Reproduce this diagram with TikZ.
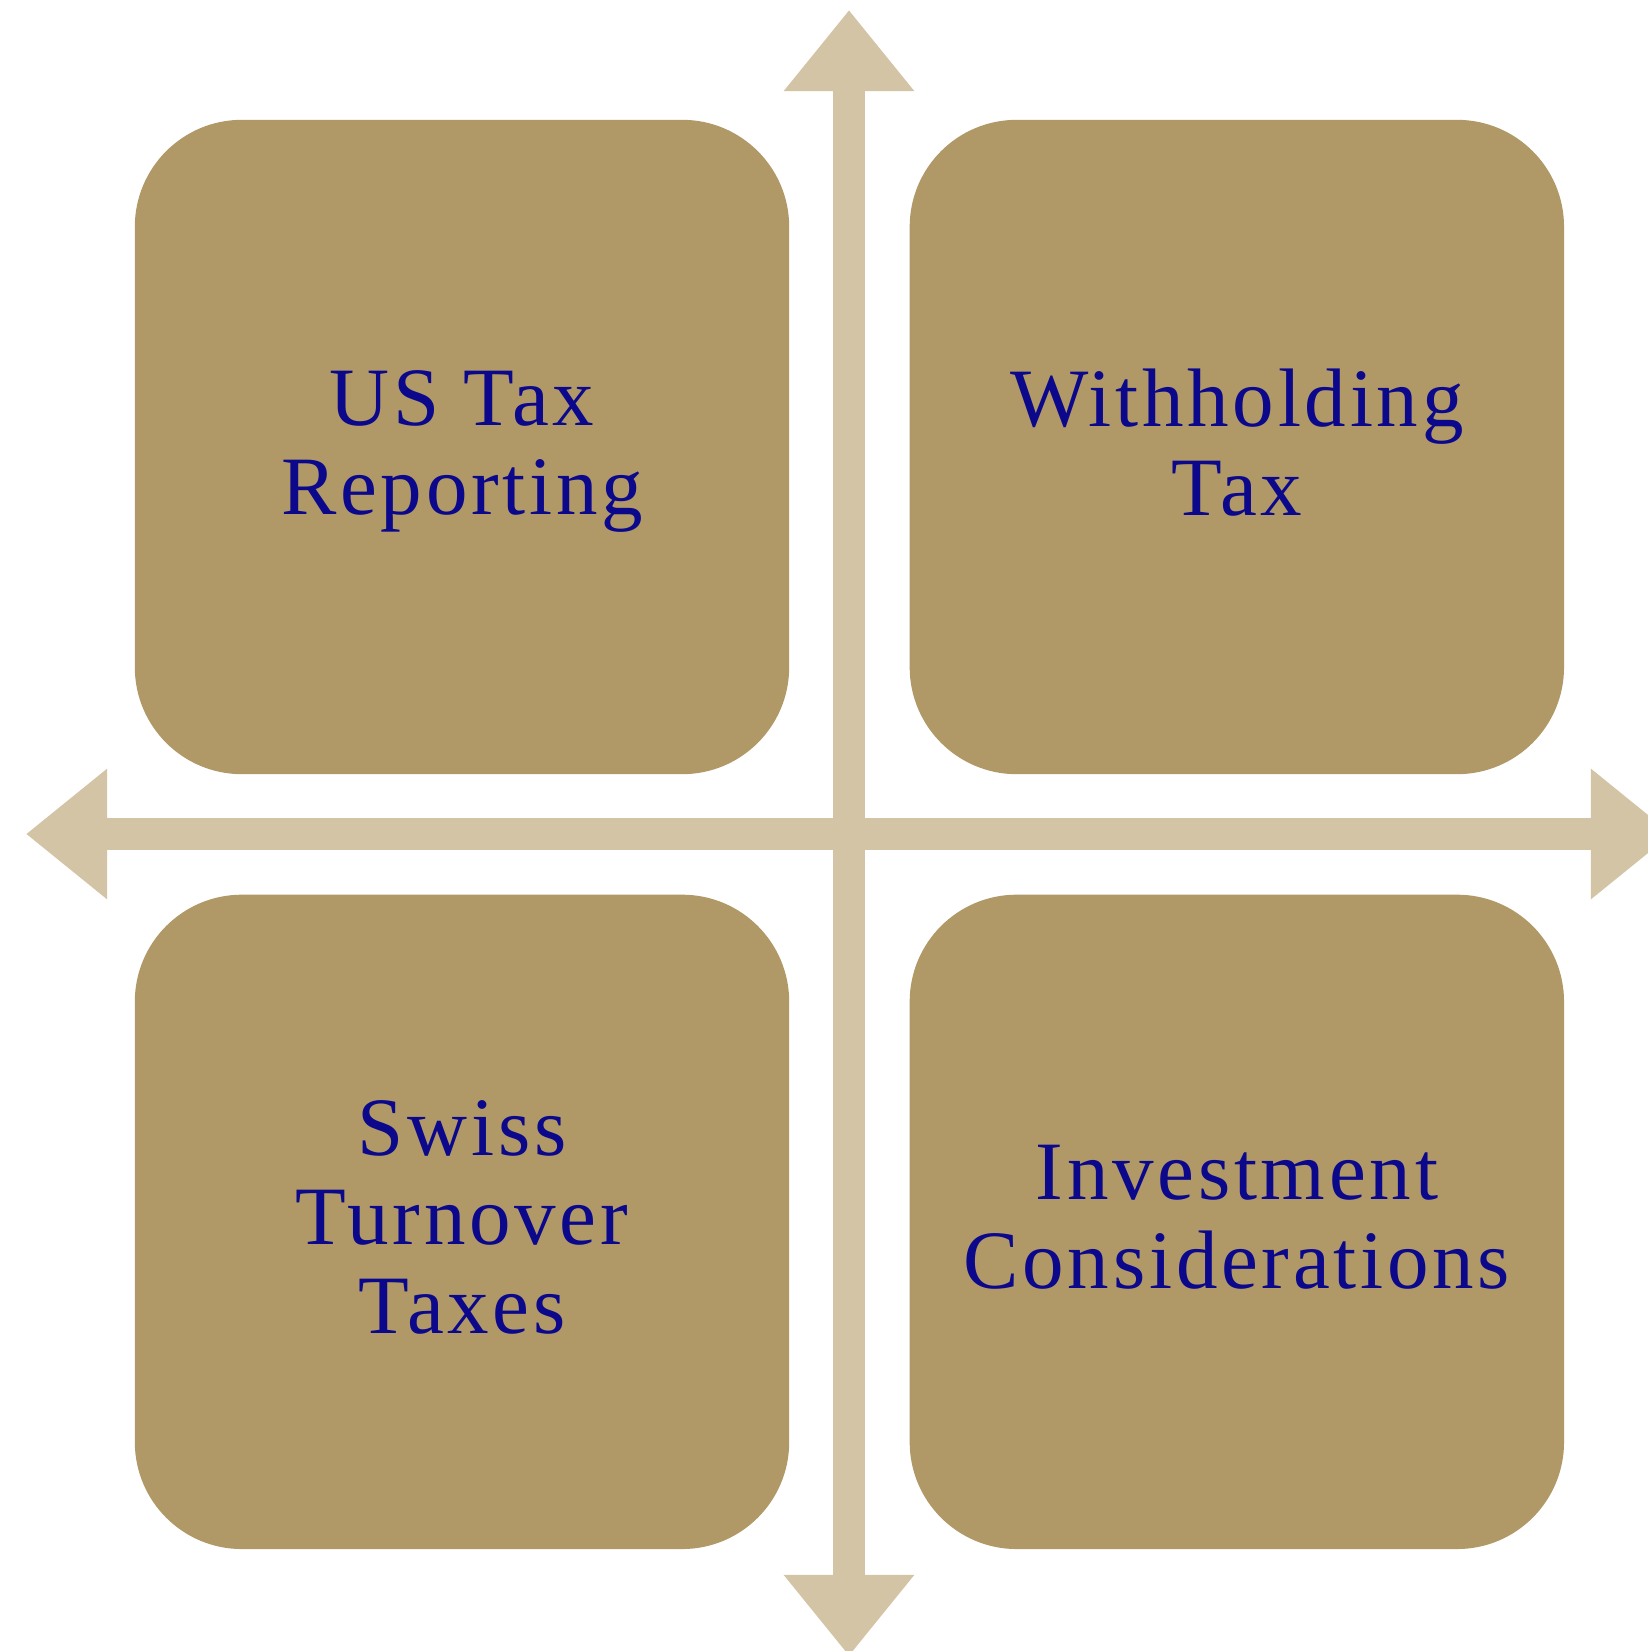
\documentclass[tikz,border=0pt]{standalone}
\usepackage{fontspec}
\setmainfont{Liberation Serif}[LetterSpace=4.5]
\usepackage{tikz}
\usetikzlibrary{arrows.meta,positioning}
\definecolor{axistan}{RGB}{211,196,166}
\definecolor{boxgold}{RGB}{176,153,102}
\definecolor{labelblue}{RGB}{12,8,140}

\begin{document}
\begin{tikzpicture}[
    x=0.01cm, y=-0.01cm,
    node distance=1.19cm,
    quad/.style={rectangle, fill=boxgold, rounded corners=1.07cm, minimum width=6.54cm, minimum height=6.54cm, align=center, text=labelblue, font=\fontsize{23.6}{25.4}\selectfont, text depth=2.7pt},
    axis/.style={draw=axistan, line width=0.32cm, {Triangle[length=0.81cm, width=1.25cm]}-{Triangle[length=0.81cm, width=1.25cm]}}
]
    \useasboundingbox (0,0) rectangle (1648,1651);
    \fill[white] (0,0) rectangle (1648,1651);

    \coordinate (top) at (849,10);
    \coordinate (bottom) at (849,1656);
    \coordinate (left) at (26,834);
    \coordinate (right) at (1672,834);
    \draw[axis] (top) -- (bottom);
    \draw[axis] (left) -- (right);

    \node[quad] (ustax) at (462,447) {US Tax\\Reporting};
    \node[quad, right=of ustax] (withhold) {Withholding\\Tax};
    \node[quad, below=of ustax] (swiss) {Swiss\\Turnover\\Taxes};
    \node[quad, below=of withhold] (invest) {Investment\\Considerations};
\end{tikzpicture}
\end{document}
